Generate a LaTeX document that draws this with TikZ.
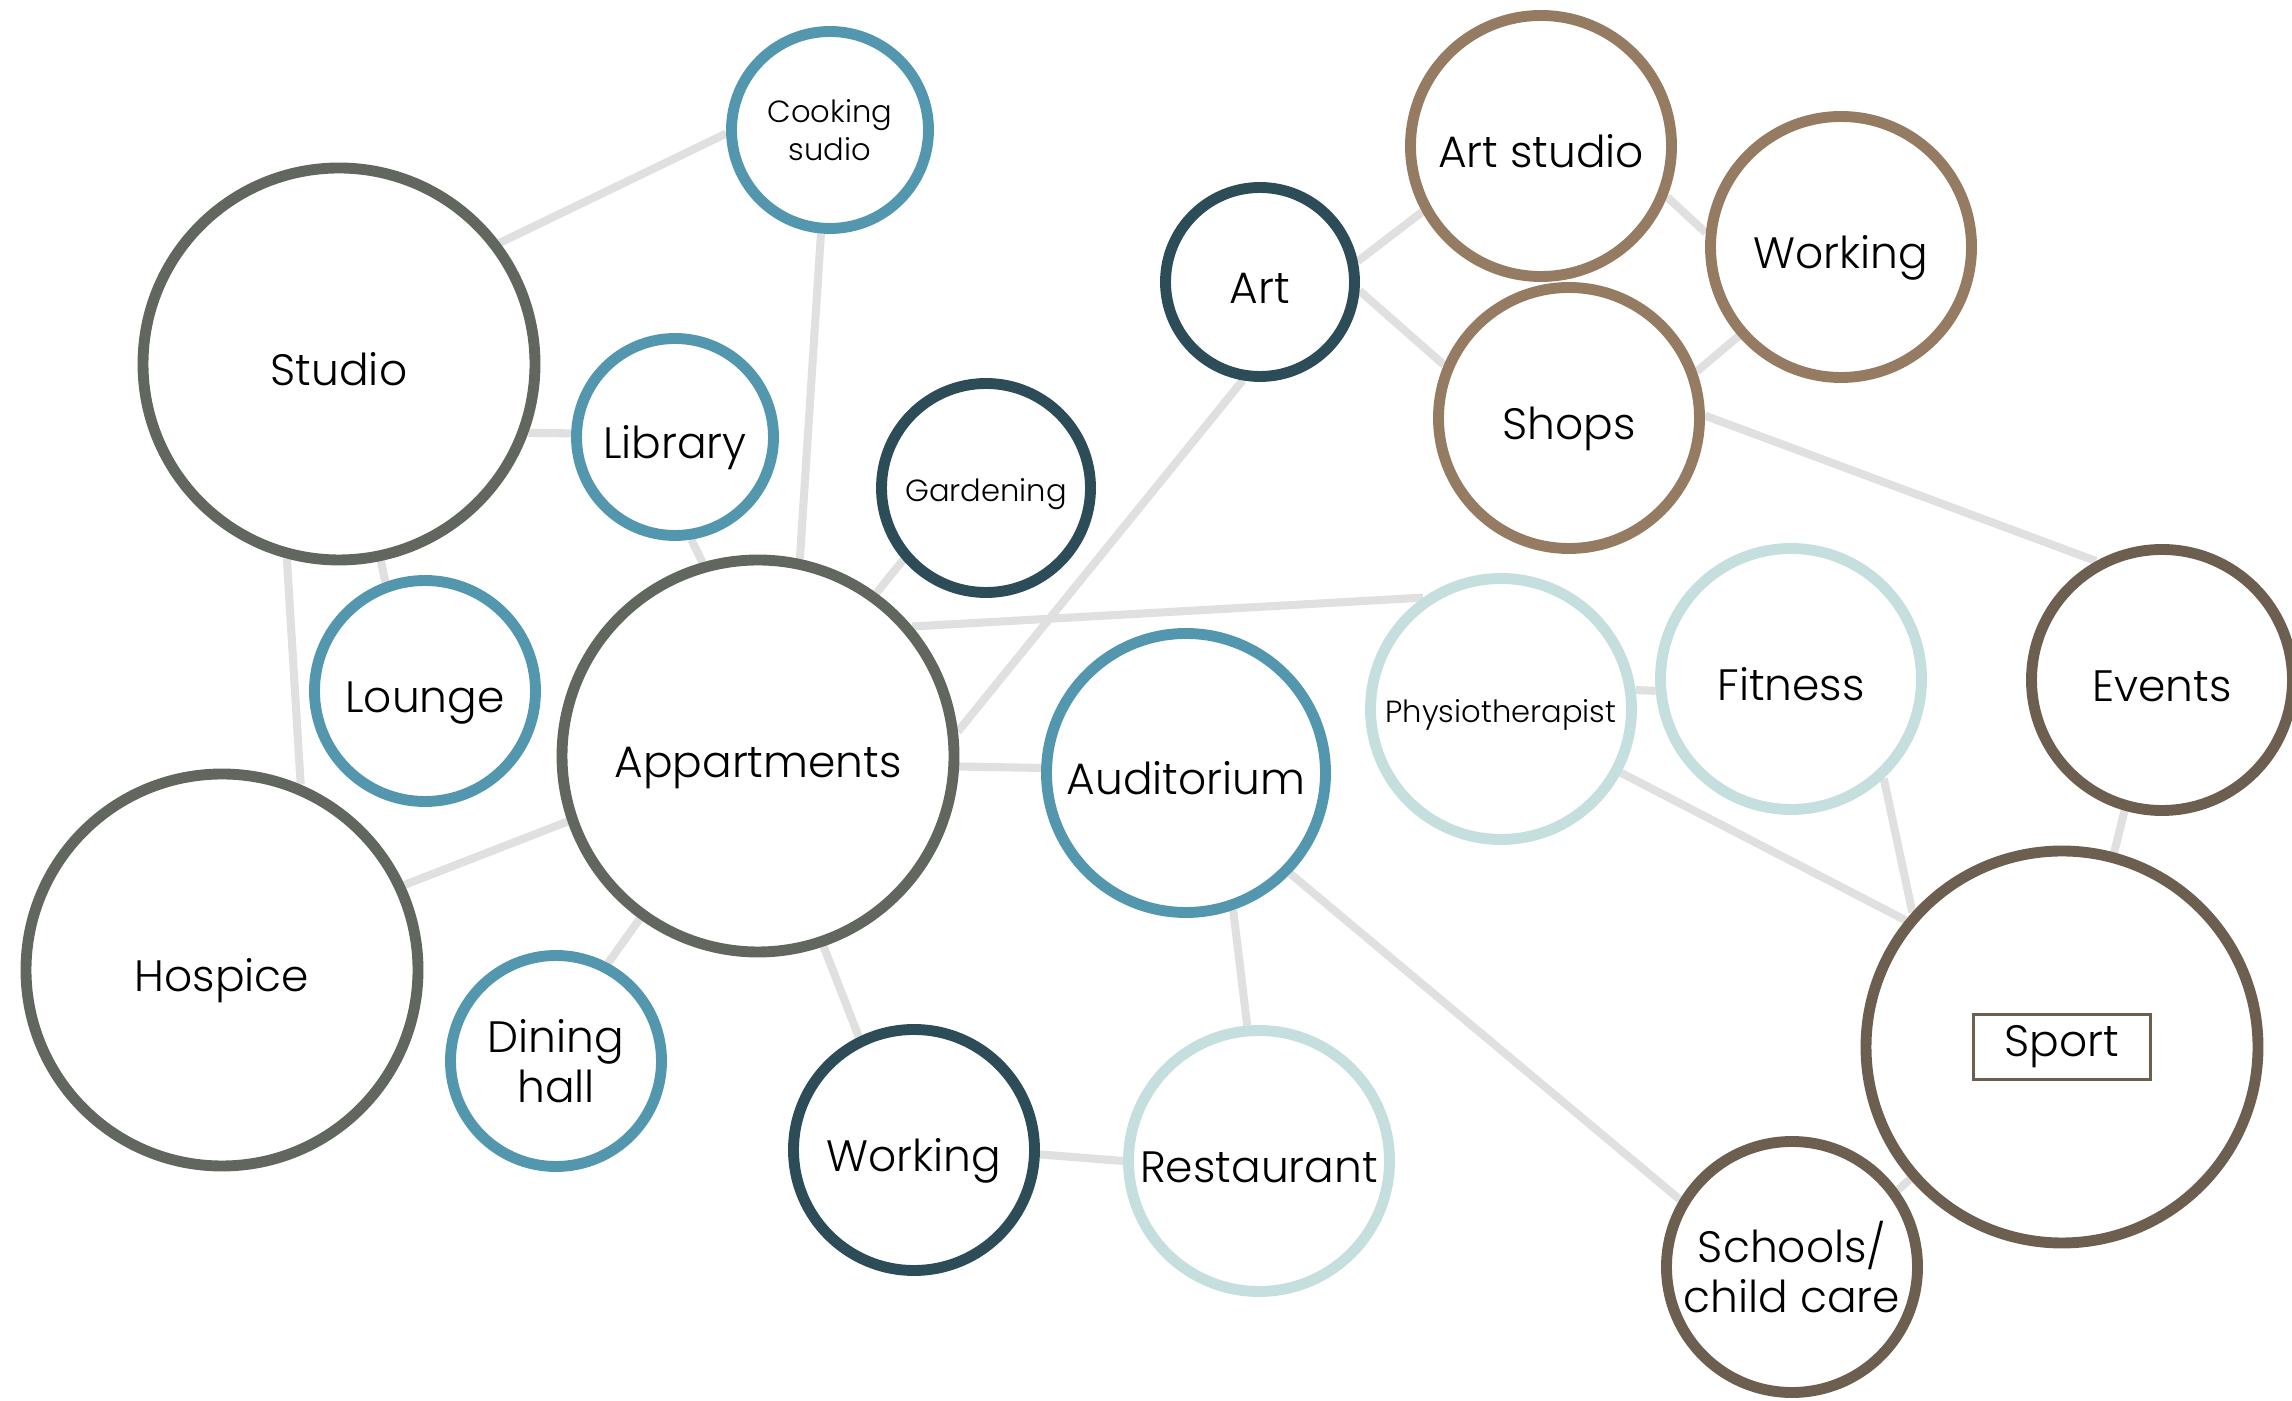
\documentclass[tikz,border=0pt]{standalone}
\usepackage{fontspec}
\setmainfont{Poppins}[UprightFont={* Light}]
\usetikzlibrary{backgrounds}
\definecolor{cgray}{HTML}{61675F}
\definecolor{cblue}{HTML}{5397AF}
\definecolor{cdark}{HTML}{2C4C58}
\definecolor{cbrown}{HTML}{957B61}
\definecolor{cdbrown}{HTML}{6C5F4F}
\definecolor{clight}{HTML}{C5DEDE}
\definecolor{cedge}{HTML}{E0E0E0}
\tikzset{
  % generic bubble
  bubble/.style={circle, draw, line width=3.1pt, fill=white, inner sep=0pt,
    align=center, text height=0.43cm, text depth=0pt,
    font=\fontsize{12.5}{14.4}\selectfont},
  smalltxt/.style={text height=0.27cm, font=\fontsize{8.7}{11}\selectfont},
  twolines/.style={text height=},
  % bubble colours
  b gray/.style={bubble, draw=cgray},
  b blue/.style={bubble, draw=cblue},
  b dark/.style={bubble, draw=cdark},
  b brown/.style={bubble, draw=cbrown},
  b dbrown/.style={bubble, draw=cdbrown},
  b light/.style={bubble, draw=clight},
  % bubble sizes
  s xl/.style={minimum size=3.92cm},
  s l/.style={minimum size=2.61cm},
  s s/.style={minimum size=1.97cm},
  % connections
  link/.style={line width=2.3pt, cedge},
  % framed label
  tagbox/.style={draw=cdbrown, line width=0.7pt, minimum width=1.77cm,
    minimum height=0.65cm, inner sep=0pt, font=\fontsize{12.5}{14.4}\selectfont},
}
\begin{document}
\begin{tikzpicture}
  \useasboundingbox (0,0) rectangle (22.92,14);
  % left group
  \node[b blue, s s, smalltxt, twolines] (cook) at (8.30,12.70) {Cooking\\sudio};
  \node[b gray, s xl] (studio) at (3.39,10.36) {Studio};
  \node[b blue, s s] (library) at (6.75,9.63) {Library};
  \node[b dark, minimum size=2.09cm, smalltxt] (garden) at (9.86,9.12) {Gardening};
  \node[b blue, minimum size=2.21cm] (lounge) at (4.25,7.09) {Lounge};
  \node[b gray, s xl] (apart) at (7.58,6.44) {Appartments};
  \node[b gray, s xl] (hospice) at (2.22,4.30) {Hospice};
  \node[b blue, minimum size=2.11cm, twolines] (dining) at (5.56,3.39) {Dining\\hall};
  \node[b dark, minimum size=2.41cm] (workbot) at (9.14,2.50) {Working};
  % middle group
  \node[b blue, minimum size=2.79cm] (audit) at (11.86,6.27) {Auditorium};
  \node[b light, s l] (rest) at (12.59,2.39) {Restaurant};
  \node[b dark, minimum size=1.89cm] (art) at (12.60,11.18) {Art};
  \node[b brown, s l] (artstudio) at (15.41,12.54) {Art studio};
  \node[b brown, s l] (worktop) at (18.41,11.53) {Working};
  \node[b brown, s l] (shops) at (15.69,9.82) {Shops};
  % right group
  \node[b light, s l, smalltxt] (physio) at (15.01,6.91) {Physiotherapist};
  \node[b light, s l] (fitness) at (17.91,7.21) {Fitness};
  \node[b dbrown, s l] (events) at (21.62,7.20) {Events};
  \node[b dbrown, s xl] (sport) at (20.62,3.53) {};
  \node[tagbox] (sportlbl) at (sport) {Sport};
  \node[b dbrown, minimum size=2.51cm, twolines] (schools) at (17.92,1.33) {Schools/\\child care};
  \begin{scope}[on background layer]
    \draw[link] (studio.37) -- (cook.182);
    \draw[link] (cook.265) -- (apart.78);
    \draw[link] (studio.-20) -- (library.178);
    \draw[link] (studio.-78) -- (lounge.110);
    \draw[link] (studio.255) -- (hospice.67);
    \draw[link] (library.-81) -- (apart.106);
    \draw[link] (garden.221) -- (apart.54);
    \draw[link] (apart.40) -- (physio.125);
    \draw[link] (art.260) -- (apart.7);
    \draw[link] (art.12) -- (artstudio.209);
    \draw[link] (art.-5) -- (shops.157);
    \draw[link] (artstudio.-22) -- (worktop.174);
    \draw[link] (shops.20) -- (worktop.221);
    \draw[link] (shops.1) -- (events.119);
    \draw[link] (apart.-3) -- (audit.178);
    \draw[link] (apart.199) -- (hospice.25);
    \draw[link] (apart.234) -- (dining.62);
    \draw[link] (apart.-71) -- (workbot.116);
    \draw[link] (workbot.-2) -- (rest.180);
    \draw[link] (audit.-71) -- (rest.95);
    \draw[link] (audit.-44) -- (schools.149);
    \draw[link] (physio.8) -- (fitness.185);
    \draw[link] (physio.-28) -- (sport.141);
    \draw[link] (fitness.-47) -- (sport.138);
    \draw[link] (events.254) -- (sport.75);
    \draw[link] (schools.36) -- (sport.221);
  \end{scope}
\end{tikzpicture}
\end{document}
